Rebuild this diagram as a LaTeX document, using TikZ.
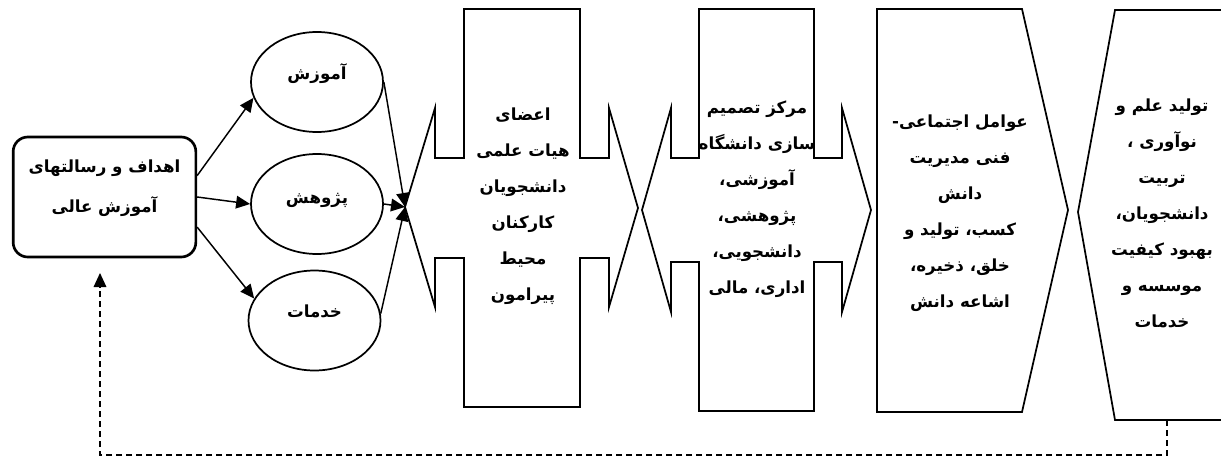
\documentclass[tikz,border=0pt]{standalone}
\usepackage{fontspec}
\usetikzlibrary{arrows.meta,shapes.geometric}
\TeXXeTstate=1
\newfontfamily\fa[Script=Arabic]{DejaVu Sans}
\newcommand{\rl}[1]{\beginR #1\endR}

\tikzset{
  txt/.style={font=\fa\bfseries\fontsize{12.5}{27}\selectfont, align=center, inner sep=0pt},
  blockline/.style={line width=1.3pt, line join=miter},
  oval/.style={ellipse, draw, line width=1.3pt, minimum width=99pt, minimum height=75pt, inner sep=0pt},
  goalbox/.style={draw, line width=2pt, rounded corners=11pt, minimum width=137pt, minimum height=90pt},
  arr/.style={line width=1.1pt, -{Triangle[length=10.5pt,width=9.5pt]}},
  feedback/.style={line width=0.9pt, dash pattern=on 4.5pt off 3pt, -{Triangle[length=10.5pt,width=9.5pt]}}
}

\begin{document}
\begin{tikzpicture}[x=0.75pt, y=-0.75pt]
\clip (0,0) rectangle (1221,457);

% goals and missions box
\node[goalbox] (goal) at (104.5,197) {};
\node[txt, font=\fa\bfseries\fontsize{12.5}{30}\selectfont] (goaltxt) at (104.5,188)
  {\rl{اهداف و رسالتهای}\\ \rl{آموزش عالی}};

% three missions
\node[oval] (edu) at (317,82) {};
\node[oval] (res) at (317,204) {};
\node[oval] (srv) at (314.5,320.5) {};
\node[txt] (edutxt) at (317,74) {\rl{آموزش}};
\node[txt] (restxt) at (317,200) {\rl{پژوهش}};
\node[txt] (srvtxt) at (314.5,311) {\rl{خدمات}};

\draw[arr] (goal.13.5) -- (edu.194);
\draw[arr] (goal.east) -- (res.west);
\draw[arr] (goal.-18) -- (srv.160);

% block 1: members
\coordinate (hub) at (405,207);
\draw[blockline] (464,9) -- (580,9) -- (580,158) -- (609,158) -- (609,108) -- (638,208)
  -- (609,307) -- (609,258) -- (580,258) -- (580,407) -- (464,407) -- (464,258)
  -- (435,258) -- (435,307) -- (hub) -- (435,108) -- (435,158) -- (464,158) -- cycle;
\node[txt] (members) at (523,206)
  {\rl{اعضای}\\ \rl{هیات علمی}\\ \rl{دانشجویان}\\ \rl{کارکنان}\\ \rl{محیط}\\ \rl{پیرامون}};

\draw[arr] (edu.east) -- (hub);
\draw[arr] (res.east) -- (hub);
\draw[arr] (srv.6) -- (hub);

% block 2: decision centre
\draw[blockline] (699,9) -- (814,9) -- (814,158) -- (842,158) -- (842,108) -- (871,210)
  -- (842,312) -- (842,262) -- (814,262) -- (814,411) -- (699,411) -- (699,262)
  -- (671,262) -- (671,312) -- (642,210) -- (671,108) -- (671,158) -- (699,158) -- cycle;
\node[txt] (centre) at (757,199)
  {\rl{مرکز تصمیم}\\ \rl{سازی دانشگاه}\\ \rl{آموزشی،}\\ \rl{پژوهشی،}\\ \rl{دانشجویی،}\\ \rl{اداری، مالی}};

% block 3: knowledge management factors
\draw[blockline] (877,9) -- (1022,9) -- (1068,210) -- (1022,412) -- (877,412) -- cycle;
\node[txt] (factors) at (960,213)
  {\rl{عوامل اجتماعی-}\\ \rl{فنی مدیریت}\\ \rl{دانش}\\ \rl{کسب، تولید و}\\ \rl{خلق، ذخیره،}\\ \rl{اشاعه دانش}};

% block 4: outcomes
\coordinate (fbstart) at (1167,420);
\draw[blockline] (1230,10) -- (1115,10) -- (1078,212) -- (1115,420) -- (1230,420);
\node[txt] (outcome) at (1162,213)
  {\rl{تولید علم  و}\\ \rl{نوآوری ،}\\ \rl{تربیت}\\ \rl{دانشجویان،}\\ \rl{بهبود کیفیت}\\ \rl{موسسه و}\\ \rl{خدمات}};

% feedback loop
\coordinate (fbend) at (100,273);
\draw[feedback] (fbstart) -- ++(0,35) -| (fbend);
\end{tikzpicture}
\end{document}
